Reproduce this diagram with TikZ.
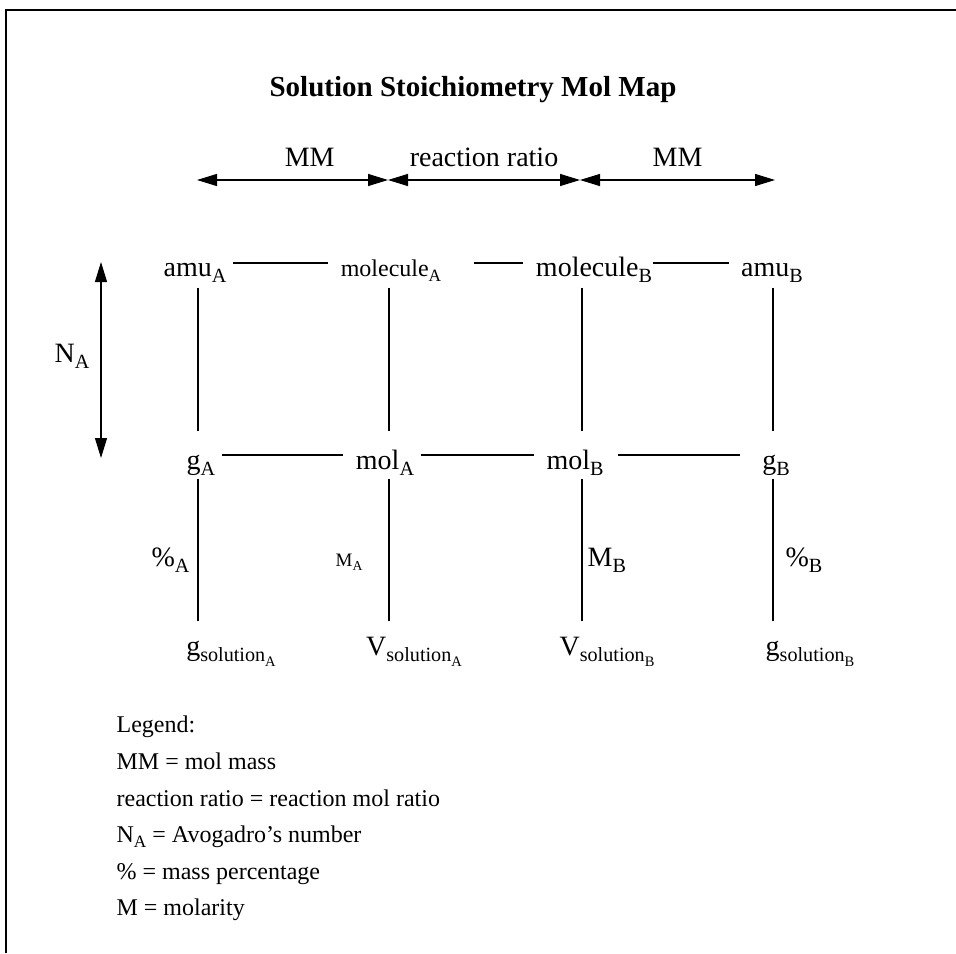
\documentclass[tikz,border=0pt]{standalone}
\usepackage{fontspec}
\setmainfont{Liberation Serif}
\usetikzlibrary{arrows.meta}

\makeatletter
\newcommand\lowsub[1]{\raisebox{-0.24em}{\fontsize{\strip@pt\dimexpr0.72\dimexpr\f@size pt\relax\relax}{0pt}\selectfont #1}}
\makeatother

\begin{document}
\begin{tikzpicture}[x=0.5pt, y=-0.5pt, line width=0.6pt, >={Triangle[length=10pt,width=6pt]},
        lbl/.style={font=\fontsize{14}{17}\selectfont, inner sep=0pt, text height=10pt, text depth=4pt, anchor=base},
        leg/.style={font=\fontsize{12}{14}\selectfont, inner sep=0pt, anchor=base west},
        link/.style={shorten <=3pt, shorten >=6pt},
        vlink/.style={shorten <=1.5pt, shorten >=8.5pt},
        slink/.style={shorten <=0.5pt, shorten >=6.5pt}]
        \useasboundingbox (0,0) rectangle (956,953);

        % Frame
        \draw[line width=1pt] (6,953) -- (6,10) -- (956,10);

        % Title
        \node[font=\fontsize{14.5}{17}\selectfont\bfseries, anchor=base] (title) at (473,96) {Solution Stoichiometry Mol Map};

        % Columns and arrow ends
        \coordinate (c1) at (198,0);
        \coordinate (c2) at (389,0);
        \coordinate (c3) at (582,0);
        \coordinate (c4) at (773,0);
        \coordinate (a1) at (197,180);
        \coordinate (a2) at (388,180);
        \coordinate (a3) at (580,180);
        \coordinate (a4) at (775,180);
        \coordinate (na1) at (101,262);
        \coordinate (na2) at (101,458);

        % Nodes
        \node[lbl] (amuA) at (195,276) {amu\lowsub{A}};
        \node[lbl, font=\fontsize{12}{14}\selectfont] (molecA) at (391,276) {molecule\lowsub{A}};
        \node[lbl] (molecB) at (594,276) {molecule\lowsub{B}};
        \node[lbl] (amuB) at (772,276) {amu\lowsub{B}};

        \node[lbl] (gA) at (201,469) {g\lowsub{A}};
        \node[lbl] (molA) at (385,469) {mol\lowsub{A}};
        \node[lbl] (molB) at (575,469) {mol\lowsub{B}};
        \node[lbl] (gB) at (776,469) {g\lowsub{B}};

        \node[lbl] (gsolA) at (231,655) {g\lowsub{solution\lowsub{A}}};
        \node[lbl] (VsolA) at (414,655) {V\lowsub{solution\lowsub{A}}};
        \node[lbl] (VsolB) at (607,655) {V\lowsub{solution\lowsub{B}}};
        \node[lbl] (gsolB) at (810,655) {g\lowsub{solution\lowsub{B}}};

        % Arrows with labels
        \draw[<->] (a1) -- node[lbl, above, yshift=2.5pt, pos=0.59] {MM} (a2);
        \draw[<->] (a2) -- node[lbl, above, yshift=2.5pt] {reaction ratio} (a3);
        \draw[<->] (a3) -- node[lbl, above, yshift=2.5pt] {MM} (a4);
        \draw[<->] (na1) -- node[lbl, left=5.5pt, yshift=2pt] {N\lowsub{A}} (na2);

        % Row lines
        \draw[link] ([yshift=6.5pt]amuA.base east) -- ([yshift=6.5pt]molecA.base west);
        \draw[link, shorten <=16pt] ([yshift=6.5pt]molecA.base east) -- ([yshift=6.5pt]molecB.base west);
        \draw[link, shorten <=0pt] ([yshift=6.5pt]molecB.base east) -- ([yshift=6.5pt]amuB.base west);
        \draw[link] ([yshift=7pt]gA.base east) -- ([yshift=7pt]molA.base west);
        \draw[link] ([yshift=7pt]molA.base east) -- ([yshift=7pt]molB.base west);
        \draw[link, shorten <=7pt, shorten >=11pt] ([yshift=7pt]molB.base east) -- ([yshift=7pt]gB.base west);

        % Column lines
        \draw[vlink] (amuA.south -| c1) -- (gA.north -| c1);
        \draw[vlink] (molecA.south -| c2) -- (molA.north -| c2);
        \draw[vlink] (molecB.south -| c3) -- (molB.north -| c3);
        \draw[vlink] (amuB.south -| c4) -- (gB.north -| c4);

        \draw[slink] (gA.south -| c1) -- node[lbl, left=4pt, yshift=-2pt] {\%\lowsub{A}} (gsolA.north -| c1);
        \draw[slink] (molA.south -| c2) -- node[lbl, font=\fontsize{9.5}{11}\selectfont, left=13pt, yshift=-2pt] {M\lowsub{A}} (VsolA.north -| c2);
        \draw[slink] (molB.south -| c3) -- node[lbl, right=2.5pt, yshift=-2pt] {M\lowsub{B}} (VsolB.north -| c3);
        \draw[slink] (gB.south -| c4) -- node[lbl, right=6pt, yshift=-2pt] {\%\lowsub{B}} (gsolB.north -| c4);

        % Legend
        \node[leg] (leg0) at (116,732) {Legend:};
        \node[leg] (leg1) at (116,769) {MM = mol mass};
        \node[leg] (leg2) at (116,806) {reaction ratio = reaction mol ratio};
        \node[leg] (leg3) at (116,842) {N\lowsub{A} = Avogadro's number};
        \node[leg] (leg4) at (116,879) {\% = mass percentage};
        \node[leg] (leg5) at (116,915) {M = molarity};
    \end{tikzpicture}
\end{document}
